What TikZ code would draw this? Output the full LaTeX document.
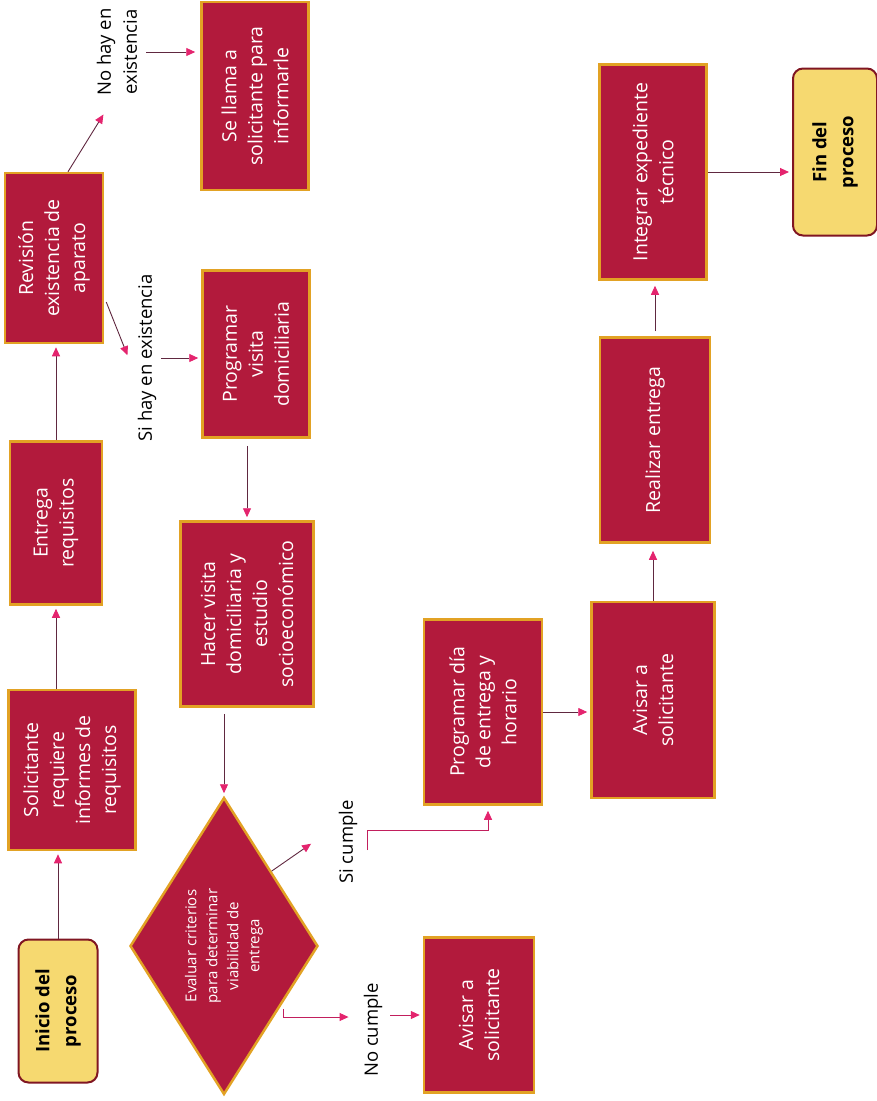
\documentclass[tikz,border=0pt]{standalone}
\usepackage{fontspec}
\setmainfont{Open Sans}
\usetikzlibrary{arrows.meta, shapes.geometric, calc}
\definecolor{boxred}{RGB}{178,26,60}
\definecolor{boxgold}{RGB}{226,162,36}
\definecolor{endyellow}{RGB}{246,217,112}
\definecolor{enddark}{RGB}{128,22,34}
\definecolor{lineclr}{RGB}{96,40,64}
\definecolor{tipclr}{RGB}{228,36,110}
\tikzset{>={Triangle[length=9pt, width=8pt, color=tipclr]},
  box/.style={rectangle, draw=boxgold, line width=2.5pt, fill=boxred, text=white, rotate=90, align=center, inner sep=2pt, font=\fontsize{19.5}{26}\selectfont},
  ends/.style={rectangle, rounded corners=10pt, draw=enddark, line width=2pt, fill=endyellow, rotate=90, align=center, font=\bfseries\fontsize{18.5}{27}\selectfont},
  ask/.style={diamond, shape aspect=1.6, draw=boxgold, line width=2.5pt, fill=boxred, text=white, rotate=90, align=center, inner sep=1pt, font=\fontsize{15}{21}\selectfont},
  lbl/.style={rotate=90, align=center, inner sep=0pt, font=\fontsize{18.5}{26}\selectfont},
  arr/.style={->, draw=lineclr, line width=0.9pt, shorten >=3pt},
  parr/.style={arr, draw=tipclr!85!black}}

\begin{document}
\begin{tikzpicture}[x=1pt, y=-1pt]
	\useasboundingbox (0,0) rectangle (877,1101);
	\node[ends, minimum width=143pt, minimum height=79pt] (inicio) at (58,1011) {Inicio del\\proceso};
	\node[box, minimum width=160pt, minimum height=127pt] (solic) at (72,770) {Solicitante\\requiere\\informes de\\requisitos};
	\node[box, minimum width=163pt, minimum height=92pt] (entrega) at (56,523) {Entrega\\requisitos};
	\node[box, minimum width=170pt, minimum height=98pt] (revision) at (54,258) {Revisión\\existencia de\\aparato};
	\node[box, minimum width=188pt, minimum height=107pt] (sellama) at (255,96) {Se llama a\\solicitante para\\informarle};
	\node[box, minimum width=167pt, minimum height=107pt] (progvis) at (256,354) {Programar\\visita\\domiciliaria};
	\node[box, minimum width=185pt, minimum height=133pt] (hacer) at (247,614) {Hacer visita\\domiciliaria y\\estudio\\socioeconómico};
	\node[ask, minimum width=297pt, minimum height=188pt] (eval) at (224,946) {Evaluar criterios\\para determinar\\viabilidad de\\entrega};
	\node[box, minimum width=185pt, minimum height=118pt] (progdia) at (483,712) {Programar día\\de entrega y\\horario};
	\node[box, minimum width=155pt, minimum height=110pt] (avisarb) at (479,1015) {Avisar a\\solicitante};
	\node[box, minimum width=196pt, minimum height=123pt] (avisar) at (653,700) {Avisar a\\solicitante};
	\node[box, minimum width=205pt, minimum height=110pt] (realizar) at (655,440) {Realizar entrega};
	\node[box, minimum width=215pt, minimum height=107pt] (integrar) at (653,172) {Integrar expediente\\técnico};
	\node[ends, minimum width=167pt, minimum height=84pt] (fin) at (835,152) {Fin del\\proceso};
	\node[lbl] (nohay) at (117,52) {No hay en\\existencia};
	\node[lbl] (sihay) at (147,358) {Si hay en existencia};
	\node[lbl] (sicumple) at (348,842) {Si cumple};
	\node[lbl] (nocumple) at (373,1030) {No cumple};
	\draw[arr] (inicio.east) -- (inicio.east |- solic.west);
	\draw[arr] (entrega.west |- solic.east) -- (entrega.west);
	\draw[arr] (entrega.east) -- (entrega.east |- revision.west);
	\draw[arr] ($(revision.east)+(14,0)$) -- ($(nohay.west)+(-12,16)$);
	\draw[arr, shorten <=9pt, shorten >=5pt] (nohay.south) -- (nohay.south -| sellama.north);
	\draw[arr] ($(revision.south)+(2,44)$) -- ($(sihay.north)+(-9,0)$);
	\draw[arr, shorten <=5pt] (sihay.south) -- (sihay.south -| progvis.north);
	\draw[arr, shorten <=7pt] (hacer.east |- progvis.west) -- (hacer.east);
	\draw[arr, shorten <=6pt] (hacer.west -| eval.east) -- (eval.east);
	\draw[arr] (eval.south east) -- ($(sicumple.north)+(-25,0)$);
	\draw[parr] ($(sicumple.south)+(10,8)$) |- ($(progdia.west)+(5,25)$) -- ($(progdia.west)+(5,2)$);
	\draw[parr] ($(eval.south west)+(12,-12)$) |- ($(nocumple.north)+(-12,-13)$);
	\draw[parr, shorten <=8pt] (avisarb.north -| nocumple.south) -- (avisarb.north);
	\draw[arr] (progdia.south) -- (progdia.south -| avisar.north);
	\draw[arr, shorten >=7pt] (avisar.east) -- (avisar.east |- realizar.west);
	\draw[arr, shorten <=5pt, shorten >=5pt] (realizar.east) -- (realizar.east |- integrar.west);
	\draw[arr] (integrar.south) -- (integrar.south -| fin.north);
\end{tikzpicture}
\end{document}
